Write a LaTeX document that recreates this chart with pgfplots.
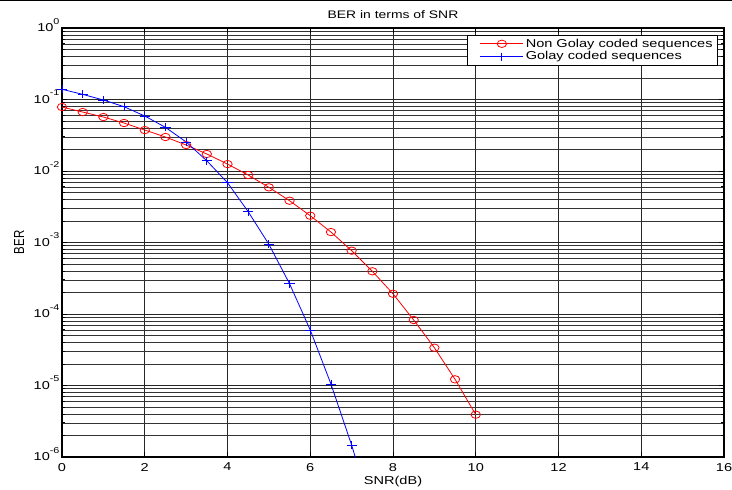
\documentclass[border=0pt]{standalone}
\usepackage{fontspec}
\setmainfont[FakeStretch=1.27]{Liberation Sans}
\newfontfamily\plainfont{Liberation Sans}
\usepackage{pgfplots}
\pgfplotsset{compat=1.18}
\newcommand{\ylab}[1]{10\smash{\raisebox{7.5bp}{\fontsize{8.5}{8.5}\selectfont #1}}}
\begin{document}
\begin{tikzpicture}
\path[use as bounding box] (0,0) rectangle (732bp,490bp);
\fill[black] (0,488.6bp) rectangle (732bp,490bp);
\begin{axis}[
  at={(62bp,33bp)}, anchor=south west,
  scale only axis, width=662bp, height=429bp,
  xmin=0, xmax=16, ymin=1e-6, ymax=1,
  ymode=log, log basis y=10,
  xtick={0,2,...,16},
  ytick={1e-6,1e-5,1e-4,1e-3,1e-2,1e-1,1},
  minor ytick={2e-6,3e-6,4e-6,5e-6,6e-6,7e-6,8e-6,9e-6,
    2e-5,3e-5,4e-5,5e-5,6e-5,7e-5,8e-5,9e-5,
    2e-4,3e-4,4e-4,5e-4,6e-4,7e-4,8e-4,9e-4,
    2e-3,3e-3,4e-3,5e-3,6e-3,7e-3,8e-3,9e-3,
    2e-2,3e-2,4e-2,5e-2,6e-2,7e-2,8e-2,9e-2,
    2e-1,3e-1,4e-1,5e-1,6e-1,7e-1,8e-1,9e-1},
  yticklabels={\ylab{-6},\ylab{-5},\ylab{-4},\ylab{-3},\ylab{-2},\ylab{-1},\ylab{0}},
  /pgf/number format/assume math mode=true,
  tick label style={font=\fontsize{11.5}{13}\selectfont},
  xticklabel style={yshift=-2.5bp},
  yticklabel style={xshift=1bp},
  grid=both,
  major grid style={black!85, line width=0.75bp},
  minor grid style={black!80, line width=0.7bp},
  axis line style={black, line width=1.2bp},
  tick align=inside, major tick length=5bp, minor tick length=3bp,
  tick style={black, line width=0.8bp},
  legend style={at={(1,1)}, anchor=north east, xshift=-6bp, yshift=-7bp,
    font=\fontsize{11.5}{13}\selectfont, draw=black, line width=0.8bp,
    fill=white, inner xsep=3bp, inner ysep=1.5bp, row sep=-1bp},
  legend cell align=left,
  legend image code/.code={%
    \path (-10bp,0bp);
    \draw[mark repeat=2,mark phase=2] plot coordinates {(0bp,0bp) (21.5bp,0bp) (43bp,0bp)};},
]
\addplot[red, line width=0.8bp, mark=o, mark size=3.7bp,
  mark options={xscale=1.27, line width=0.8bp}] coordinates {
(0,0.0785) (0.5,0.0668) (1,0.0569) (1.5,0.0469) (2,0.0374) (2.5,0.0299)
(3,0.0231) (3.5,0.0173) (4,0.0125) (4.5,0.00879) (5,0.00591) (5.5,0.00384)
(6,0.00237) (6.5,0.00140) (7,0.000769) (7.5,0.000396) (8,0.000192)
(8.5,8.24e-5) (9,3.38e-5) (9.5,1.22e-5) (10,3.91e-6)};
\addlegendentry{Non Golay coded sequences}
\addplot[blue, line width=0.8bp, mark=+, mark size=4bp,
  mark options={xscale=1.27, line width=0.8bp}] coordinates {
(0,0.139) (0.5,0.118) (1,0.0984) (1.5,0.0793) (2,0.0588) (2.5,0.0408)
(3,0.0255) (3.5,0.0139) (4,0.00686) (4.5,0.00270) (5,0.000944)
(5.5,0.000265) (6,5.97e-5) (6.5,1.05e-5) (7,1.47e-6)};
\addlegendentry{Golay coded sequences}
\addplot[blue, line width=0.8bp, forget plot] coordinates {(7,1.47e-6) (7.5,1.6e-7)};
\end{axis}
\node[anchor=base, font=\fontsize{11}{12}\selectfont] at (393bp,471bp) {BER in terms of SNR};
\node[anchor=base, font=\fontsize{11.5}{13}\selectfont] at (393bp,6bp) {SNR(dB)};
\node[rotate=90, font=\plainfont\fontsize{11.5}{13}\selectfont] at (19bp,247.5bp) {\scalebox{1}[1.27]{BER}};
\end{tikzpicture}
\end{document}
